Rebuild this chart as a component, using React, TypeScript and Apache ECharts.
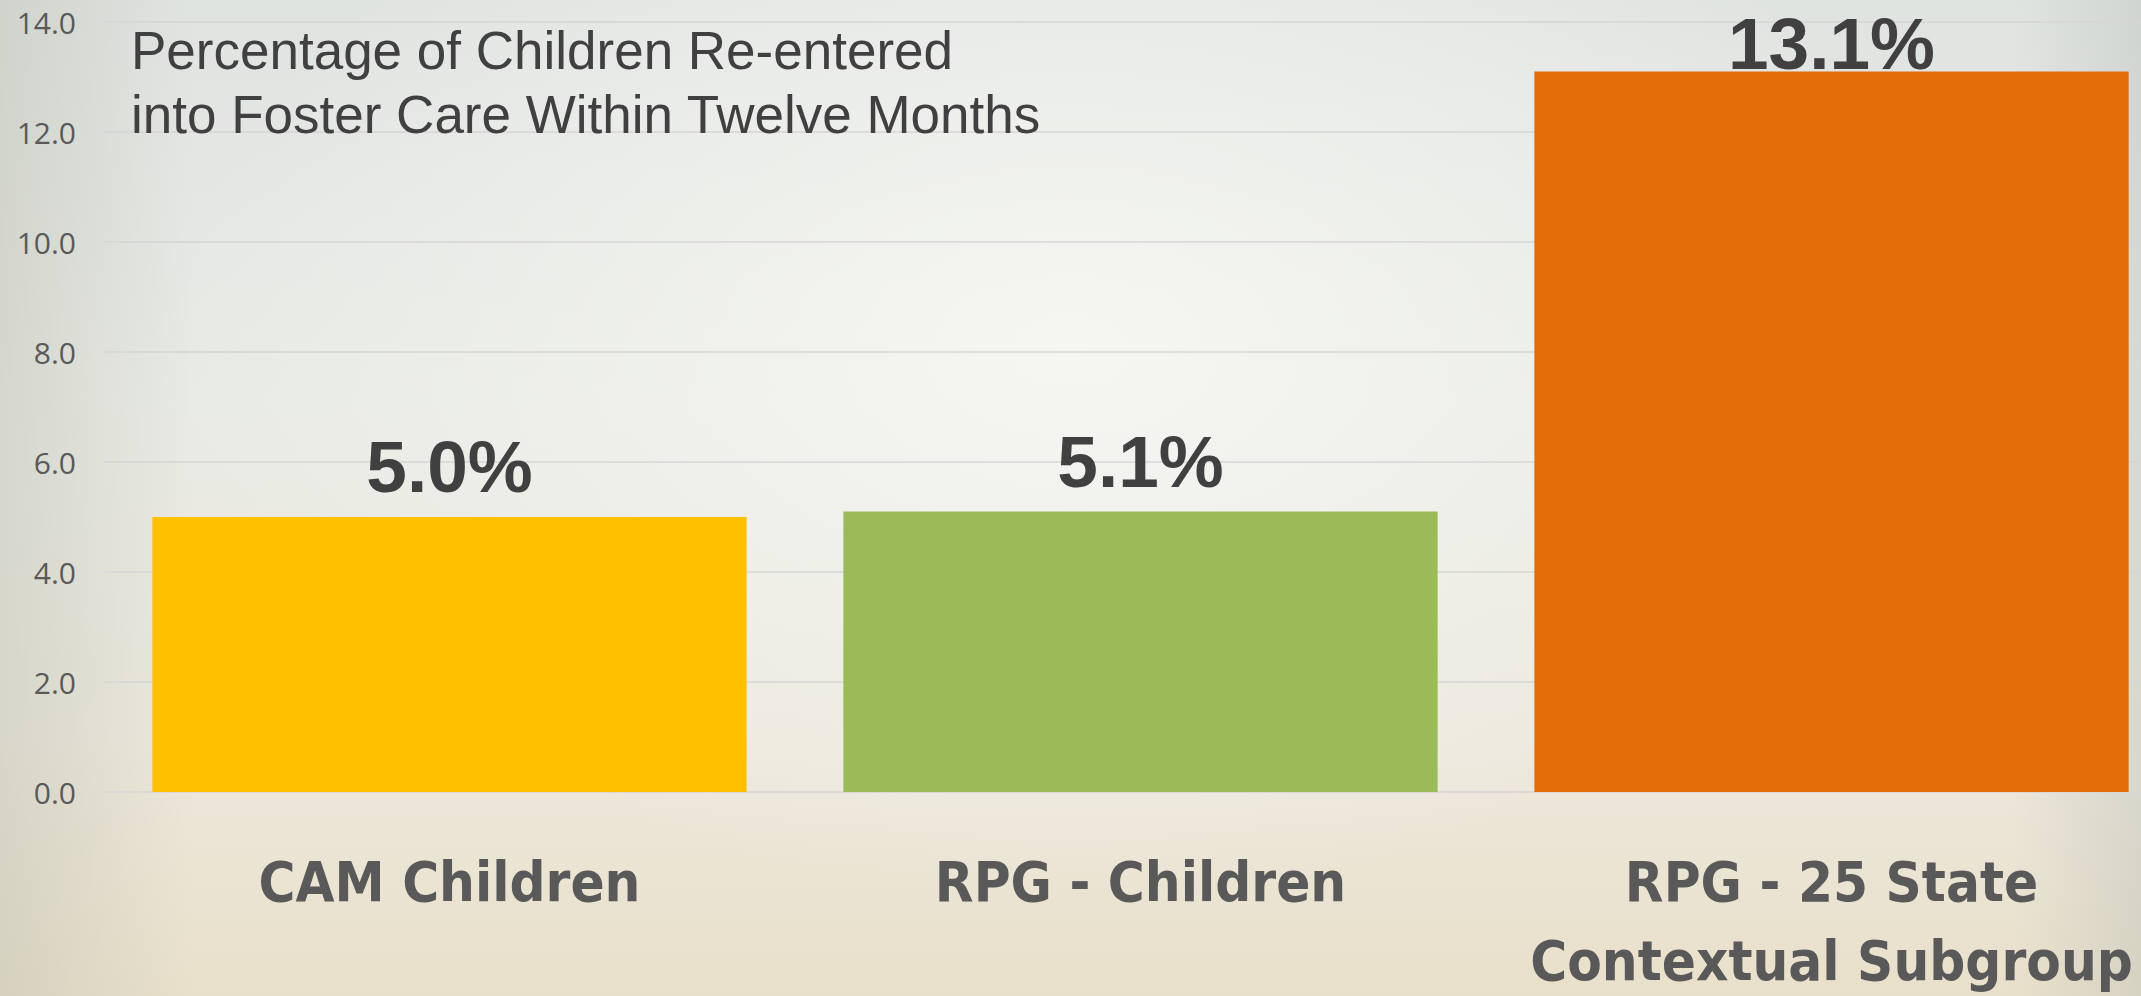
import React, { useEffect, useRef } from "react";
import * as echarts from "echarts";

const categories = ["CAM Children", "RPG - Children", "RPG - 25 State\nContextual Subgroup"];
const values = [5.0, 5.1, 13.1];
const barColors = ["#FFC000", "#9BBB59", "#E36C09"];
const yMin = 0;
const yMax = 14;
const yInterval = 2;
const titleLines = ["Percentage of Children Re-entered", "into Foster Care Within Twelve Months"];
const labelDistances = [14, 14, -8];

export default function App() {
  const ref = useRef<HTMLDivElement>(null);

  useEffect(() => {
    if (!ref.current) return;
    const chart = echarts.init(ref.current, undefined, { renderer: "svg" });
    chart.setOption({
      animation: false,
      backgroundColor: "transparent",
      title: {
        text: titleLines.join("\n"),
        left: 131,
        top: 18,
        padding: 0,
        textStyle: {
          fontFamily: "'Liberation Sans', Arial, sans-serif",
          fontSize: 53,
          fontWeight: "normal",
          color: "#404040",
          lineHeight: 64,
        },
      },
      grid: {
        left: 104,
        top: 22,
        width: 2073,
        height: 770,
        containLabel: false,
        outerBoundsMode: "none",
      },
      xAxis: {
        type: "category",
        data: categories,
        axisLine: { show: false },
        axisTick: { show: false },
        axisLabel: {
          interval: 0,
          margin: 50,
          fontFamily: "'DejaVu Sans Condensed', 'DejaVu Sans', sans-serif",
          fontWeight: "bold",
          fontSize: 56,
          lineHeight: 79,
          color: "#595959",
        },
      },
      yAxis: {
        type: "value",
        min: yMin,
        max: yMax,
        interval: yInterval,
        axisLine: { show: false },
        axisTick: { show: false },
        axisLabel: {
          margin: 28,
          fontFamily: "'Open Sans', sans-serif",
          fontSize: 30,
          color: "#595959",
          formatter: (v: number) => v.toFixed(1),
        },
        splitLine: { show: true, lineStyle: { color: "#d6d6d4", width: 1.5 } },
      },
      series: [
        {
          type: "bar",
          barCategoryGap: "14%",
          data: values.map((v, i) => ({
            value: v,
            itemStyle: { color: barColors[i] },
            label: { distance: labelDistances[i] },
          })),
          label: {
            show: true,
            position: "top",
            formatter: (p: any) => p.value.toFixed(1) + "%",
            fontFamily: "'Liberation Sans', Arial, sans-serif",
            fontWeight: "bold",
            fontSize: 73,
            lineHeight: 73,
            color: "#404040",
          },
        },
      ],
    });
    return () => chart.dispose();
  }, []);

  return (
    <div
      style={{
        position: "fixed",
        left: 0,
        top: 0,
        width: 2141,
        height: 996,
        overflow: "hidden",
        background:
          "linear-gradient(to right, rgba(190,192,178,0.45) 0%, rgba(190,192,178,0) 9%, rgba(190,192,178,0) 94%, rgba(180,186,180,0.35) 100%)," +
          "radial-gradient(ellipse at 50% 35%, rgba(246,247,243,0.95) 0%, rgba(246,247,243,0) 60%)," +
          "linear-gradient(to bottom, #e0e4e1 0%, #e8eae5 40%, #ece8dc 75%, #e9e0ca 100%)",
      }}
    >
      <div ref={ref} style={{ width: 2141, height: 996 }} />
    </div>
  );
}
